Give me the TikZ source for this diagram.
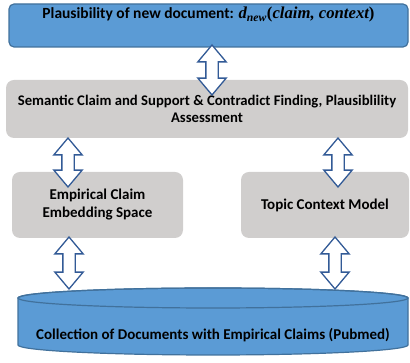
\documentclass[tikz,border=0pt]{standalone}
\usepackage{fontspec}
\setmainfont{Carlito}
\newfontfamily\formfont{Liberation Serif}
\usetikzlibrary{shapes.arrows}
\definecolor{boxblue}{RGB}{91,155,213}
\definecolor{edgeblue}{RGB}{65,113,156}
\definecolor{arrowblue}{RGB}{50,90,150}
\definecolor{boxgray}{RGB}{208,206,205}
\tikzset{
  bluebox/.style={draw=edgeblue,fill=boxblue,line width=1.2pt,rounded corners=5pt},
  graybox/.style={fill=boxgray,rounded corners=8pt,align=center,
    font=\bfseries\fontsize{15}{18}\selectfont},
  dblarrow/.style={double arrow,draw=arrowblue,fill=white,line width=1.3pt,
    rotate=90,inner sep=5.5pt,double arrow head extend=8pt,
    double arrow tip angle=80,minimum height=#1},
}
\begin{document}
\begin{tikzpicture}[x=1pt,y=1pt]%像素坐标
\useasboundingbox (0,0) rectangle (410,363);
%顶部文档框
\node[bluebox,minimum width=399pt,inner sep=0pt,text height=15pt,text depth=28pt,
  font=\bfseries\fontsize{15.5}{18}\selectfont] (plaus) at (208.5,337.5)
  {Plausibility of new document: {\formfont\fontsize{16.7}{18}\selectfont\itshape d\textsubscript{new}\upshape(\itshape claim, context\upshape)}};
%中间的灰框
\node[graybox,minimum width=402pt,minimum height=58pt,
  font=\bfseries\fontsize{14.7}{17}\selectfont] (sem) at (207,254)
  {Semantic Claim and Support \& Contradict Finding, Plausiblility\\Assessment};
\node[graybox,minimum width=171pt,minimum height=66pt] (emb) at (97.5,158)
  {Empirical Claim\\Embedding Space};
\node[graybox,minimum width=168pt,minimum height=66pt] (topic) at (325,158)
  {Topic Context Model};
%底部圆柱
\filldraw[draw=edgeblue,fill=boxblue,line width=1.2pt] (18,65) -- (18,18)
  arc [start angle=180,end angle=360,x radius=195,y radius=10] -- (408,65)
  arc [start angle=0,end angle=180,x radius=195,y radius=10] -- cycle;
\draw[edgeblue,line width=1.2pt] (213,65) ellipse [x radius=195,y radius=10];
\node[font=\bfseries\fontsize{15}{18}\selectfont] (coll) at (213,28)
  {Collection of Documents with Empirical Claims (Pubmed)};
%双向箭头
\node[dblarrow=50pt] (a1) at (212,293) {};
\node[dblarrow=49pt] (a2) at (68,200.5) {};
\node[dblarrow=49pt] (a3) at (338,200.5) {};
\node[dblarrow=52pt] (a4) at (69,100) {};
\node[dblarrow=52pt] (a5) at (335,100) {};
\end{tikzpicture}
\end{document}
